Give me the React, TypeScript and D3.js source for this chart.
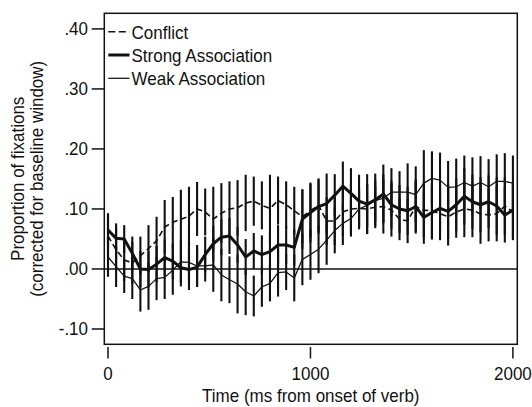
import React from 'react';
import * as d3 from 'd3';

const times = [0,40,80,120,160,200,240,280,320,360,400,440,480,520,560,600,640,680,720,760,800,840,880,920,960,1000,1040,1080,1120,1160,1200,1240,1280,1320,1360,1400,1440,1480,1520,1560,1600,1640,1680,1720,1760,1800,1840,1880,1920,1960,2000];

const conflict = [0.055,0.032,0.015,0.010,0.022,0.034,0.047,0.070,0.078,0.083,0.088,0.100,0.095,0.083,0.093,0.100,0.102,0.110,0.113,0.106,0.101,0.114,0.107,0.097,0.087,0.097,0.106,0.080,0.080,0.095,0.100,0.101,0.100,0.103,0.104,0.098,0.083,0.080,0.104,0.098,0.097,0.092,0.087,0.095,0.100,0.098,0.092,0.090,0.092,0.105,0.095];
const strong = [0.065,0.051,0.050,0.026,0.000,-0.001,0.008,0.019,0.013,0.002,-0.001,0.003,0.024,0.042,0.053,0.055,0.040,0.020,0.030,0.024,0.029,0.040,0.040,0.036,0.083,0.094,0.104,0.109,0.123,0.138,0.126,0.113,0.108,0.115,0.125,0.107,0.100,0.097,0.104,0.086,0.094,0.101,0.096,0.107,0.121,0.112,0.107,0.112,0.105,0.090,0.098];
const weak = [0.020,0.004,-0.012,-0.016,-0.035,-0.029,-0.016,-0.014,-0.002,0.012,0.011,0.005,0.005,0.007,-0.010,-0.018,-0.025,-0.038,-0.045,-0.030,-0.024,-0.006,-0.005,-0.015,0.016,0.024,0.033,0.048,0.064,0.076,0.084,0.100,0.106,0.114,0.118,0.128,0.128,0.128,0.124,0.143,0.151,0.148,0.136,0.137,0.144,0.138,0.144,0.137,0.146,0.146,0.143];

const errConflict = [0.035,0.035,0.035,0.035,0.032,0.039,0.040,0.045,0.042,0.049,0.049,0.045,0.039,0.054,0.050,0.046,0.046,0.047,0.041,0.040,0.056,0.040,0.039,0.040,0.045,0.045,0.045,0.040,0.040,0.040,0.040,0.035,0.041,0.035,0.045,0.044,0.035,0.037,0.045,0.045,0.046,0.044,0.048,0.043,0.047,0.045,0.050,0.044,0.046,0.048,0.047];
const errStrong = [0.028,0.025,0.023,0.028,0.030,0.030,0.030,0.030,0.030,0.031,0.034,0.033,0.030,0.030,0.030,0.030,0.030,0.030,0.030,0.032,0.030,0.033,0.031,0.030,0.050,0.050,0.045,0.050,0.035,0.041,0.042,0.044,0.050,0.044,0.049,0.040,0.040,0.040,0.042,0.044,0.045,0.043,0.046,0.044,0.047,0.045,0.046,0.044,0.048,0.046,0.047];
const errWeak = [0.033,0.034,0.028,0.034,0.036,0.039,0.036,0.036,0.041,0.035,0.035,0.035,0.026,0.045,0.044,0.039,0.049,0.039,0.034,0.033,0.030,0.040,0.030,0.039,0.043,0.042,0.040,0.041,0.038,0.036,0.030,0.030,0.035,0.035,0.040,0.040,0.035,0.048,0.047,0.055,0.045,0.046,0.044,0.047,0.045,0.048,0.044,0.046,0.045,0.047,0.046];

const yTicks = [-0.1, 0, 0.1, 0.2, 0.3, 0.4];
const yTickLabels = ['-.10', '.00', '.10', '.20', '.30', '.40'];
const xTicks = [0, 1000, 2000];
const xTickLabels = ['0', '1000', '2000'];

const seriesNames = ['Conflict', 'Strong Association', 'Weak Association'];
const xTitle = 'Time (ms from onset of verb)';
const yTitle1 = 'Proportion of fixations';
const yTitle2 = '(corrected for baseline window)';

const FONT = "'Liberation Sans', Arial, Helvetica, sans-serif";
const INK = '#111';

const seriesStyles = [
  { width: 1.6, dash: '6,3.5' },
  { width: 3, dash: undefined as string | undefined },
  { width: 1.25, dash: undefined as string | undefined },
];

function Txt({ x, y, anchor = 'start', rotate = false, size = 17, children }: any) {
  return (
    <g transform={`translate(${x},${y})${rotate ? ' rotate(-90)' : ''} scale(1,1.1)`}>
      <text x={0} y={0} textAnchor={anchor} fontFamily={FONT} fontSize={size} fill={INK}>
        {children}
      </text>
    </g>
  );
}

export default function App() {
  const W = 532, H = 407;
  const left = 104.3, right = 517.3, top = 13.3, bottom = 344.3;
  const x = d3.scaleLinear().domain([-18.3, 2021.7]).range([left, right]);
  const y = d3.scaleLinear().domain([-0.1255, 0.426]).range([bottom, top]);

  const series = [
    { vals: conflict, errs: errConflict },
    { vals: strong, errs: errStrong },
    { vals: weak, errs: errWeak },
  ];

  const line = (vals: number[]) =>
    d3.line<number>().x((_, i) => x(times[i])).y((d) => y(d))(vals) || '';

  const legendRows = [31.7, 55, 78.3];

  return (
    <svg width={W} height={H} style={{ position: 'absolute', left: 0, top: 0, background: '#fff' }}>
      <rect x={0} y={0} width={W} height={H} fill="#fff" />
      {/* error bars */}
      <g stroke={INK} strokeWidth={2.1}>
        {series.map((s, si) =>
          s.vals.map((v, i) => (
            <line key={`e${si}-${i}`} x1={x(times[i])} x2={x(times[i])} y1={y(v - s.errs[i])} y2={y(v + s.errs[i])} />
          ))
        )}
      </g>
      {/* zero line */}
      <line x1={left} x2={right} y1={y(0)} y2={y(0)} stroke={INK} strokeWidth={1.3} />
      {/* series lines */}
      {series.map((s, si) => (
        <path key={`l${si}`} d={line(s.vals)} fill="none" stroke={INK}
          strokeWidth={seriesStyles[si].width} strokeDasharray={seriesStyles[si].dash}
          strokeLinejoin="round" />
      ))}
      {/* frame */}
      <rect x={left} y={top} width={right - left} height={bottom - top} fill="none" stroke={INK} strokeWidth={1.5} />
      {/* y ticks */}
      {yTicks.map((t, i) => (
        <g key={`yt${i}`}>
          <line x1={91.7} x2={left} y1={y(t)} y2={y(t)} stroke={INK} strokeWidth={1.5} />
          <Txt x={88} y={y(t) + 6.5} anchor="end">{yTickLabels[i]}</Txt>
        </g>
      ))}
      {/* x ticks */}
      {xTicks.map((t, i) => (
        <g key={`xt${i}`}>
          <line x1={x(t)} x2={x(t)} y1={347} y2={358.5} stroke={INK} strokeWidth={1.5} />
          <Txt x={x(t)} y={380} anchor="middle">{xTickLabels[i]}</Txt>
        </g>
      ))}
      <Txt x={310.8} y={401.5} anchor="middle">{xTitle}</Txt>
      <Txt x={23.5} y={(top + bottom) / 2} anchor="middle" rotate>{yTitle1}</Txt>
      <Txt x={43} y={(top + bottom) / 2} anchor="middle" rotate>{yTitle2}</Txt>
      {/* legend */}
      {seriesNames.map((n, i) => (
        <g key={`lg${i}`}>
          <line x1={108.3} x2={129.5} y1={legendRows[i]} y2={legendRows[i]} stroke={INK}
            strokeWidth={seriesStyles[i].width} strokeDasharray={i === 0 ? '7,3.5' : undefined} />
          <Txt x={131.5} y={legendRows[i] + 6.8} anchor="start">{n}</Txt>
        </g>
      ))}
    </svg>
  );
}
